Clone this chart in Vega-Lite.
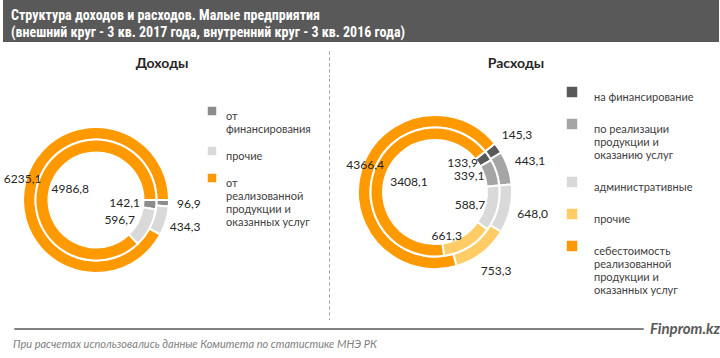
{
  "$schema": "https://vega.github.io/schema/vega-lite/v6.json",
  "padding": {"left": 2, "right": 2, "top": 0, "bottom": 2},
  "background": "white",
  "config": {
    "view": {"stroke": null},
    "font": "Lato",
    "locale": {"number": {"decimal": ",", "thousands": " ", "grouping": [3], "currency": ["", ""]}},
    "legend": {
      "orient": "none",
      "title": null,
      "symbolType": "square",
      "labelFont": "Lato",
      "labelFontSize": 11,
      "labelColor": "#404040",
      "labelBaseline": "top",
      "padding": 0,
      "labelLimit": 200
    }
  },
  "title": {
    "text": "При расчетах использовались данные Комитета по статистике МНЭ РК",
    "orient": "bottom", "anchor": "start", "frame": "group", "dx": 10, "offset": 2,
    "font": "Lato", "fontSize": 11, "fontStyle": "italic", "fontWeight": "normal", "color": "#7f7f7f"
  },
  "spacing": 8,
  "vconcat": [
    {
      "width": 716, "height": 42,
      "view": {"fill": "#595959", "stroke": null},
      "data": {"values": [
        {"line": 1, "text": "Структура  доходов и расходов. Малые предприятия"},
        {"line": 2, "text": "(внешний круг - 3 кв. 2017 года, внутренний круг - 3 кв. 2016 года)"}
      ]},
      "mark": {"type": "text", "align": "left", "baseline": "middle", "color": "white",
               "font": "Liberation Sans Narrow, Arial Narrow, Roboto Condensed, Liberation Sans", "fontSize": 14, "fontWeight": "bold"},
      "encoding": {
        "y": {"field": "line", "type": "ordinal", "axis": null, "scale": {"padding": 0.7, "align": 0.65}},
        "x": {"value": 8},
        "text": {"field": "text"}
      }
    },
    {
      "spacing": 0,
      "vconcat": [
        {
          "columns": 3,
          "align": "each",
          "spacing": {"row": 0, "column": 4},
          "resolve": {"scale": {"color": "independent", "theta": "independent"}, "legend": {"color": "independent"}},
          "concat": [
            {
              "width": 318, "height": 26,
              "data": {"values": [{"panel": "Доходы"}]},
              "mark": {"type": "text", "font": "Lato", "fontSize": 14, "fontWeight": "bold", "color": "#262626", "baseline": "middle"},
              "encoding": {"text": {"field": "panel"}}
            },
            {
              "width": 0.001, "height": 25.5,
              "view": {"stroke": "#a6a6a6", "strokeDash": [3, 3], "strokeWidth": 1},
              "data": {"values": [{}]},
              "mark": {"type": "point", "opacity": 0}
            },
            {
              "width": 358, "height": 26,
              "data": {"values": [{"panel": "Расходы"}]},
              "mark": {"type": "text", "font": "Lato", "fontSize": 14, "fontWeight": "bold", "color": "#262626", "baseline": "middle"},
              "encoding": {"text": {"field": "panel"}}
            },
            {
              "width": 186, "height": 244,
              "data": {"values": [
                {"ring": 2017, "cat": "от финансирования", "ord": 1, "value": 96.9},
                {"ring": 2017, "cat": "прочие", "ord": 2, "value": 434.3},
                {"ring": 2017, "cat": "от реализованной продукции и оказанных услуг", "ord": 3, "value": 6235.1},
                {"ring": 2016, "cat": "от финансирования", "ord": 1, "value": 142.1},
                {"ring": 2016, "cat": "прочие", "ord": 2, "value": 596.7},
                {"ring": 2016, "cat": "от реализованной продукции и оказанных услуг", "ord": 3, "value": 4986.8}
              ]},
              "transform": [
                {"stack": "value", "groupby": ["ring"], "sort": [{"field": "ord", "order": "ascending"}], "offset": "normalize", "as": ["t0", "t1"]},
                {"calculate": "(datum.t0 + datum.t1) / 2", "as": "tm"}
              ],
              "layer": [
                {
                  "transform": [{"filter": "datum.ring == 2017"}],
                  "mark": {"type": "arc", "radius": 73, "radius2": 60.5, "stroke": "white", "strokeWidth": 2},
                  "encoding": {
                    "theta": {"field": "t0", "type": "quantitative", "stack": null, "scale": {"domain": [0, 1], "range": [1.5708, 7.854], "zero": false, "nice": false}},
                    "theta2": {"field": "t1"},
                    "color": {"field": "cat", "type": "nominal",
                      "scale": {"domain": ["от финансирования", "прочие", "от реализованной продукции и оказанных услуг"], "range": ["#8c8c8c", "#d9d9d9", "#ff9900"]},
                      "legend": {"legendX": 203, "legendY": 27, "symbolSize": 100, "labelOffset": 8, "rowPadding": 8,
                        "labelExpr": "datum.label == 'от финансирования' ? ['от', 'финансирования'] : datum.label == 'от реализованной продукции и оказанных услуг' ? ['от', 'реализованной', 'продукции и', 'оказанных услуг'] : datum.label",
                        "encode": {"labels": {"update": {"dy": {"value": -6}}}}}
                    }
                  }
                },
                {
                  "transform": [{"filter": "datum.ring == 2016"}],
                  "mark": {"type": "arc", "radius": 60.5, "radius2": 47.5, "stroke": "white", "strokeWidth": 2},
                  "encoding": {
                    "theta": {"field": "t0", "type": "quantitative", "stack": null},
                    "theta2": {"field": "t1"},
                    "color": {"field": "cat", "type": "nominal"}
                  }
                },
                {
                  "transform": [{"filter": "datum.ring == 2017 && datum.ord < 3"}],
                  "mark": {"type": "text", "radius": 93, "fontSize": 12, "color": "#262626"},
                  "encoding": {
                    "theta": {"field": "tm", "type": "quantitative", "stack": null},
                    "text": {"field": "value", "type": "quantitative", "format": ".1f"}
                  }
                },
                {
                  "transform": [{"filter": "datum.ring == 2017 && datum.ord == 3"}],
                  "mark": {"type": "text", "radius": 86, "dx": 10, "fontSize": 12, "color": "#262626"},
                  "encoding": {
                    "theta": {"field": "tm", "type": "quantitative", "stack": null},
                    "text": {"field": "value", "type": "quantitative", "format": ".1f"}
                  }
                },
                {
                  "transform": [{"filter": "datum.ring == 2016 && datum.ord < 3"}],
                  "mark": {"type": "text", "radius": 44, "align": "right", "fontSize": 12, "color": "#262626"},
                  "encoding": {
                    "theta": {"field": "tm", "type": "quantitative", "stack": null},
                    "text": {"field": "value", "type": "quantitative", "format": ".1f"}
                  }
                },
                {
                  "transform": [{"filter": "datum.ring == 2016 && datum.ord == 3"}],
                  "mark": {"type": "text", "radius": 28, "fontSize": 12, "color": "#262626"},
                  "encoding": {
                    "theta": {"field": "tm", "type": "quantitative", "stack": null},
                    "text": {"field": "value", "type": "quantitative", "format": ".1f"}
                  }
                }
              ]
            },
            {
              "width": 0.001, "height": 241.5,
              "view": {"stroke": "#a6a6a6", "strokeDash": [3, 3], "strokeWidth": 1},
              "data": {"values": [{}]},
              "mark": {"type": "point", "opacity": 0}
            },
            {
              "width": 196, "height": 228,
              "data": {"values": [
                {"ring": 2017, "cat": "на финансирование", "ord": 1, "value": 145.3},
                {"ring": 2017, "cat": "по реализации продукции и оказанию услуг", "ord": 2, "value": 443.1},
                {"ring": 2017, "cat": "административные", "ord": 3, "value": 648.0},
                {"ring": 2017, "cat": "прочие", "ord": 4, "value": 753.3},
                {"ring": 2017, "cat": "себестоимость реализованной продукции и оказанных услуг", "ord": 5, "value": 4366.4},
                {"ring": 2016, "cat": "на финансирование", "ord": 1, "value": 133.9},
                {"ring": 2016, "cat": "по реализации продукции и оказанию услуг", "ord": 2, "value": 339.1},
                {"ring": 2016, "cat": "административные", "ord": 3, "value": 588.7},
                {"ring": 2016, "cat": "прочие", "ord": 4, "value": 661.3},
                {"ring": 2016, "cat": "себестоимость реализованной продукции и оказанных услуг", "ord": 5, "value": 3408.1}
              ]},
              "transform": [
                {"stack": "value", "groupby": ["ring"], "sort": [{"field": "ord", "order": "ascending"}], "offset": "normalize", "as": ["t0", "t1"]},
                {"calculate": "(datum.t0 + datum.t1) / 2", "as": "tm"}
              ],
              "layer": [
                {
                  "transform": [{"filter": "datum.ring == 2017"}],
                  "mark": {"type": "arc", "radius": 77, "radius2": 64.5, "stroke": "white", "strokeWidth": 2},
                  "encoding": {
                    "theta": {"field": "t0", "type": "quantitative", "stack": null, "scale": {"domain": [0, 1], "range": [0.89, 7.1732], "zero": false, "nice": false}},
                    "theta2": {"field": "t1"},
                    "color": {"field": "cat", "type": "nominal",
                      "scale": {"domain": ["на финансирование", "по реализации продукции и оказанию услуг", "административные", "прочие", "себестоимость реализованной продукции и оказанных услуг"], "range": ["#595959", "#a5a5a5", "#d9d9d9", "#ffcc66", "#ff9900"]},
                      "legend": {"legendX": 228, "legendY": 7, "symbolSize": 144, "labelOffset": 15, "rowPadding": 12,
                        "labelExpr": "datum.label == 'по реализации продукции и оказанию услуг' ? ['по реализации', 'продукции и', 'оказанию услуг'] : datum.label == 'себестоимость реализованной продукции и оказанных услуг' ? ['себестоимость', 'реализованной', 'продукции и', 'оказанных услуг'] : datum.label",
                        "encode": {"labels": {"update": {"dy": {"value": -6}}}}}
                    }
                  }
                },
                {
                  "transform": [{"filter": "datum.ring == 2016"}],
                  "mark": {"type": "arc", "radius": 64.5, "radius2": 52, "stroke": "white", "strokeWidth": 2},
                  "encoding": {
                    "theta": {"field": "t0", "type": "quantitative", "stack": null},
                    "theta2": {"field": "t1"},
                    "color": {"field": "cat", "type": "nominal"}
                  }
                },
                {
                  "transform": [{"filter": "datum.ring == 2017 && datum.ord < 5"}],
                  "mark": {"type": "text", "radius": 100, "fontSize": 12, "color": "#262626"},
                  "encoding": {
                    "theta": {"field": "tm", "type": "quantitative", "stack": null},
                    "text": {"field": "value", "type": "quantitative", "format": ".1f"}
                  }
                },
                {
                  "transform": [{"filter": "datum.ring == 2017 && datum.ord == 5"}],
                  "mark": {"type": "text", "radius": 90, "dx": 16, "fontSize": 12, "color": "#262626"},
                  "encoding": {
                    "theta": {"field": "tm", "type": "quantitative", "stack": null},
                    "text": {"field": "value", "type": "quantitative", "format": ".1f"}
                  }
                },
                {
                  "transform": [{"filter": "datum.ring == 2016 && datum.ord < 5"}],
                  "mark": {"type": "text", "radius": 52, "align": "right", "fontSize": 12, "color": "#262626"},
                  "encoding": {
                    "theta": {"field": "tm", "type": "quantitative", "stack": null},
                    "text": {"field": "value", "type": "quantitative", "format": ".1f"}
                  }
                },
                {
                  "transform": [{"filter": "datum.ring == 2016 && datum.ord == 5"}],
                  "mark": {"type": "text", "radius": 28, "fontSize": 12, "color": "#262626"},
                  "encoding": {
                    "theta": {"field": "tm", "type": "quantitative", "stack": null},
                    "text": {"field": "value", "type": "quantitative", "format": ".1f"}
                  }
                }
              ]
            }
          ]
        },
        {
          "spacing": 5,
          "hconcat": [
            {
              "width": 5, "height": 0.001,
              "data": {"values": [{}]},
              "mark": {"type": "point", "opacity": 0}
            },
            {
              "width": 628, "height": 0.001,
              "view": {"stroke": "#595959", "strokeWidth": 1.5},
              "data": {"values": [{}]},
              "mark": {"type": "point", "opacity": 0}
            },
            {
              "width": 70, "height": 0.001,
              "data": {"values": [{"site": "Finprom.kz"}]},
              "mark": {"type": "text", "baseline": "middle", "font": "Lato", "fontSize": 15, "fontWeight": "bold", "fontStyle": "italic", "color": "#595959"},
              "encoding": {"text": {"field": "site"}}
            }
          ]
        }
      ]
    }
  ]
}
